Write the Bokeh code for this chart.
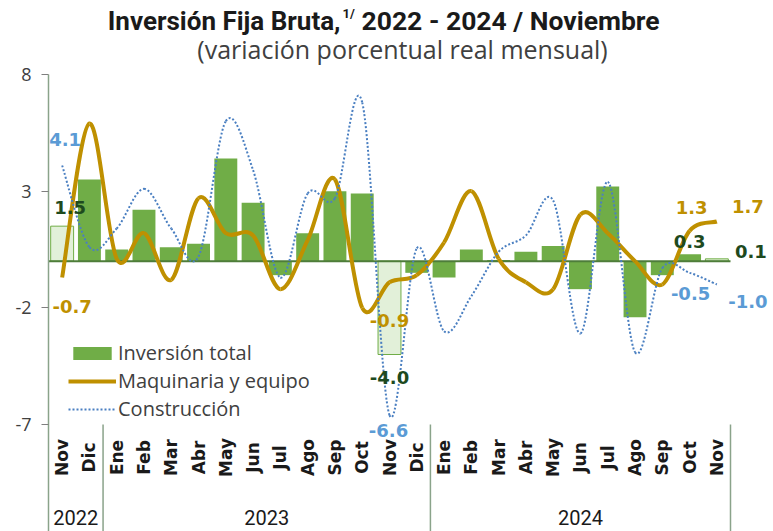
import numpy as np
from bokeh.plotting import figure
from bokeh.models import ColumnDataSource, Range1d, FixedTicker, Legend, LegendItem
from bokeh.core.properties import value
from bokeh.embed import file_html
from bokeh.resources import INLINE

# ---------------- data ----------------
months = ["Nov", "Dic",
          "Ene", "Feb", "Mar", "Abr", "May", "Jun", "Jul", "Ago", "Sep", "Oct", "Nov", "Dic",
          "Ene", "Feb", "Mar", "Abr", "May", "Jun", "Jul", "Ago", "Sep", "Oct", "Nov"]
years = ["2022", "2023", "2024"]
year_counts = [2, 12, 11]

inversion_total = [1.5, 3.5, 0.5, 2.2, 0.6, 0.75, 4.4, 2.5, -0.6, 1.2, 3.0, 2.9, -4.0,
                   -0.5, -0.7, 0.5, 0.05, 0.4, 0.65, -1.2, 3.2, -2.4, -0.6, 0.3, 0.1]
maquinaria = [-0.7, 5.9, 0.1, 1.2, -0.8, 2.7, 1.2, 1.1, -1.2, 0.9, 3.5, -2.0, -0.9,
              -0.6, 0.8, 3.0, 0.1, -0.9, -1.2, 2.0, 1.2, 0.0, -1.0, 1.3, 1.7]
construccion = [4.1, 0.6, 1.4, 3.1, 1.4, 0.2, 6.0, 3.9, -0.7, 2.9, 2.7, 6.8, -6.6,
                0.55, -3.0, -1.5, 0.4, 1.1, 2.6, -3.1, 3.4, -3.9, -0.3, -0.5, -1.0]
highlight_idx = [0, 12, 24]
labelled_idx = [0, 12, 23, 24]
y_ticks = [-7, -2, 3, 8]

# ---------------- layout (pixels) ----------------
W, H = 773, 531
BORDER_L = 48
FRAME_W = W - BORDER_L
N = len(months)
CW = 682 / N                 # px per category
PPU = 350 / 15               # px per value unit
X0 = -0.5
X1 = X0 + FRAME_W / CW
Y_TOP = 8 + 74 / PPU
Y_BOT = Y_TOP - H / PPU


def px_x(page_x):
    return X0 + (page_x - BORDER_L) / CW


def px_y(page_y):
    return Y_TOP - page_y / PPU


GREEN = "#70AD47"
LIGHT = "#E2F0D9"
GOLD = "#BF9000"
BLUE_DOT = "#4A7FC1"
BLUE_LBL = "#5B9BD5"
DKGREEN = "#1E4A1E"
GRAYTXT = "#404040"
AXIS = "#8AA38A"

p = figure(width=W, height=H, x_range=Range1d(X0, X1), y_range=Range1d(Y_BOT, Y_TOP),
           x_axis_location=None, output_backend="svg", toolbar_location=None,
           min_border_left=BORDER_L, min_border_right=0, min_border_top=0, min_border_bottom=0)
p.outline_line_color = None
p.xgrid.visible = False
p.ygrid.visible = False

# y axis
ax = p.yaxis[0]
ax.ticker = FixedTicker(ticks=y_ticks)
ax.major_label_overrides = {t: str(t) for t in y_ticks}
ax.bounds = (Y_BOT, 8)
ax.axis_line_color = AXIS
ax.axis_line_width = 1.5
ax.major_tick_out = 7
ax.major_tick_in = 0
ax.major_tick_line_color = "#7F7F7F"
ax.minor_tick_line_color = None
ax.major_label_standoff = 10
ax.major_label_text_font = "Open Sans"
ax.major_label_text_font_size = "18px"
ax.major_label_text_color = GRAYTXT

xs = np.arange(N)
tot = np.array(inversion_total)
is_hl = np.isin(xs, highlight_idx)

# bars
src_main = ColumnDataSource(dict(x=xs[~is_hl], top=tot[~is_hl]))
src_hl = ColumnDataSource(dict(x=xs[is_hl], top=tot[is_hl]))
r_bar = p.vbar(x="x", top="top", bottom=0, width=0.84, source=src_main,
               fill_color=GREEN, line_color=None)
p.vbar(x="x", top="top", bottom=0, width=0.84, source=src_hl,
       fill_color=LIGHT, line_color=GREEN, line_width=1)

# zero line
p.segment(x0=[X0], y0=[0], x1=[N - 0.5], y1=[0], line_color="#4E7D3A", line_width=2)


def smooth_segments(xv, yv):
    P = np.column_stack([xv, yv]).astype(float)
    prev = np.vstack([P[0], P[:-1]])
    nxt = np.vstack([P[1:], P[-1]])
    c1 = P[:-1] + (P[1:] - prev[:-1]) / 6
    c2 = P[1:] - (nxt[1:] - P[:-1]) / 6
    return ColumnDataSource(dict(x0=P[:-1, 0], y0=P[:-1, 1], x1=P[1:, 0], y1=P[1:, 1],
                                 cx0=c1[:, 0], cy0=c1[:, 1], cx1=c2[:, 0], cy1=c2[:, 1]))


r_maq = p.bezier(x0="x0", y0="y0", x1="x1", y1="y1", cx0="cx0", cy0="cy0", cx1="cx1", cy1="cy1",
                 source=smooth_segments(xs, maquinaria), line_color=GOLD, line_width=4)
r_con = p.bezier(x0="x0", y0="y0", x1="x1", y1="y1", cx0="cx0", cy0="cy0", cx1="cx1", cy1="cy1",
                 source=smooth_segments(xs, construccion), line_color=BLUE_DOT, line_width=2,
                 line_dash="2 2")

# data labels
lab_off = {
    "tot": [(8, -19), (0, 23), (0, -13), (34, -7)],
    "maq": [(10, 29), (0, 38), (2, -23), (31, -15)],
    "con": [(3, -26), (-1, 15), (1, 21), (31, 17)],
}
series = {"tot": (inversion_total, DKGREEN), "maq": (maquinaria, GOLD), "con": (construccion, BLUE_LBL)}
for key, (vals, col) in series.items():
    offs = lab_off[key]
    src = ColumnDataSource(dict(
        x=[i for i in labelled_idx],
        y=[vals[i] for i in labelled_idx],
        text=[f"{vals[i]:.1f}" for i in labelled_idx],
        dx=[o[0] for o in offs], dy=[o[1] for o in offs]))
    p.text(x="x", y="y", text="text", x_offset="dx", y_offset="dy", source=src,
           text_align="center", text_baseline="middle", text_color=col,
           text_font=value("DejaVu Sans"), text_font_style="bold", text_font_size="18px")

# month labels
p.text(x=xs, y=[px_y(457)] * N, text=months, angle=np.pi / 2,
       text_align="center", text_baseline="middle", text_color="#1A1A1A",
       text_font=value("DejaVu Sans"), text_font_style="bold", text_font_size="17px")

# year groups
bounds = X0 + np.cumsum([0] + year_counts)
centers = (bounds[:-1] + bounds[1:]) / 2
p.text(x=centers, y=[px_y(517)] * len(years), text=years,
       text_align="center", text_baseline="middle", text_color="#1A1A1A",
       text_font=value("Roboto"), text_font_size="20px")
p.segment(x0=bounds[1:], y0=[-7] * 3, x1=bounds[1:], y1=[Y_BOT] * 3,
          line_color=AXIS, line_width=1.5)

# title
p.text(x=[px_x(340)], y=[px_y(20)], text=["Inversión Fija Bruta,"], text_align="right",
       text_baseline="middle", text_color="#1A1A1A", text_font=value("Roboto"),
       text_font_style="bold", text_font_size="26px")
p.text(x=[px_x(342)], y=[px_y(13)], text=["1/"], text_align="left",
       text_baseline="middle", text_color="#1A1A1A", text_font=value("Roboto"),
       text_font_style="bold", text_font_size="13px")
p.text(x=[px_x(361)], y=[px_y(20)], text=["2022 - 2024 / Noviembre"], text_align="left",
       text_baseline="middle", text_color="#1A1A1A", text_font=value("Roboto"),
       text_font_style="bold", text_font_size="26.5px")
p.text(x=[px_x(402)], y=[px_y(48)], text=["(variación porcentual real mensual)"],
       text_align="center", text_baseline="middle", text_color=GRAYTXT,
       text_font=value("Open Sans"), text_font_size="25px")

legend = Legend(items=[LegendItem(label="Inversión total", renderers=[r_bar]),
                       LegendItem(label="Maquinaria y equipo", renderers=[r_maq]),
                       LegendItem(label="Construcción", renderers=[r_con])],
                location=(20, 109), orientation="vertical",
                glyph_width=48, glyph_height=16, label_height=20, spacing=1,
                padding=0, margin=0, label_standoff=2,
                label_text_font="Open Sans", label_text_font_size="20px",
                label_text_color=GRAYTXT, border_line_color=None, background_fill_alpha=0)
p.add_layout(legend)

open("out.html", "w").write(file_html(p, INLINE))
